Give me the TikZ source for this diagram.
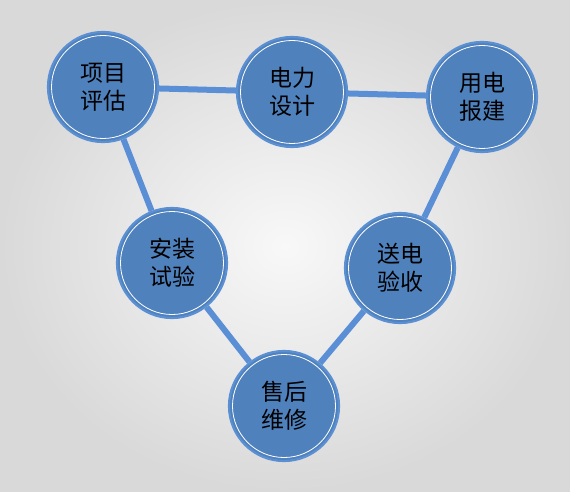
\documentclass[tikz,border=0pt]{standalone}
\usepackage{fontspec}
\newfontfamily\cjk{Noto Sans CJK SC}
\usetikzlibrary{backgrounds}
\definecolor{bblue}{HTML}{4F81BD}
\definecolor{bedge}{HTML}{5A8FD2}
\definecolor{lblue}{HTML}{5A8FD6}
\definecolor{bgin}{HTML}{F8F8F8}
\definecolor{bgout}{HTML}{D9D9D9}
\begin{document}
\begin{tikzpicture}[x=1pt,y=-1pt,
  bubble/.style={circle, minimum size=110pt, inner sep=0pt, fill=bblue, draw=bedge, line width=2.2pt,
    text=black, align=center, font=\cjk\fontsize{23}{28}\selectfont,
    path picture={\draw[white,line width=0.8pt] (path picture bounding box.center) circle (51.5pt);}},
  link/.style={lblue, line width=6pt}]
\useasboundingbox (0,0) rectangle (570,492);
\node[bubble] (xm) at (103,87) {项目\\评估};
\node[bubble] (dl) at (292,92) {电力\\设计};
\node[bubble] (yd) at (482,97) {用电\\报建};
\node[bubble] (az) at (172,263) {安装\\试验};
\node[bubble] (sd) at (400,268) {送电\\验收};
\node[bubble] (sh) at (284,406) {售后\\维修};
\begin{pgfonlayer}{background}
\shade[inner color=bgin, outer color=bgout] (0,0) rectangle (570,492);
\draw[link] (xm) -- (dl);
\draw[link] (dl) -- (yd);
\draw[link] (yd) -- (sd);
\draw[link] (sd) -- (sh);
\draw[link] (sh) -- (az);
\draw[link] (az) -- (xm);
\end{pgfonlayer}
\end{tikzpicture}
\end{document}
